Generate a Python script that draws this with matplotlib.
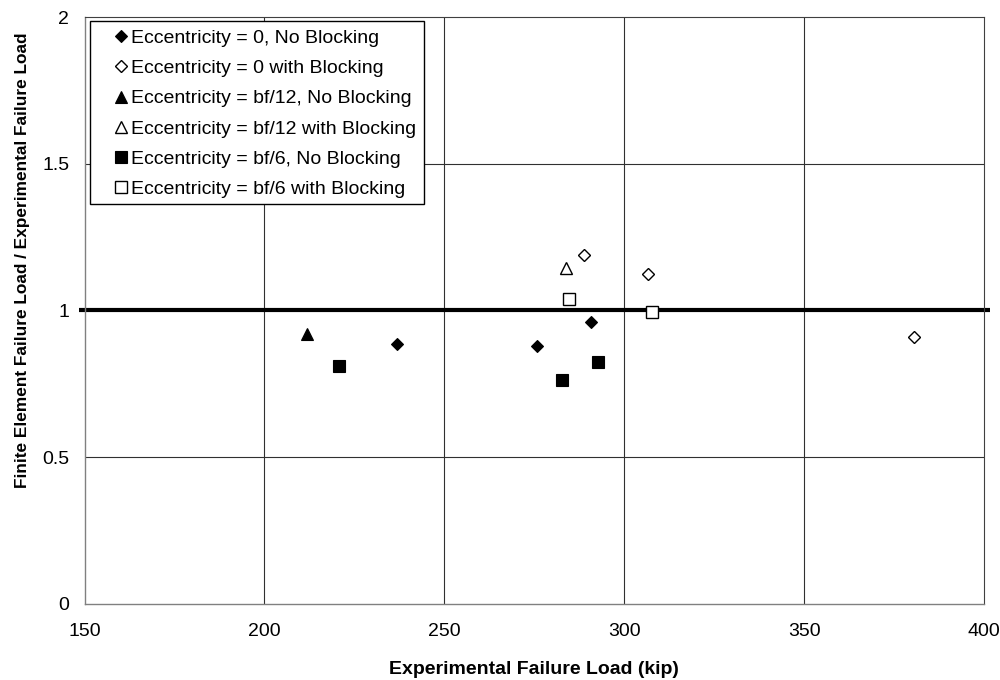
import matplotlib
matplotlib.use("Agg")
import matplotlib.pyplot as plt
from matplotlib.patches import Rectangle

plt.rcParams['font.family'] = ['Liberation Sans', 'DejaVu Sans']

# Experimental failure load (kip) and FE / experimental load ratio per group
e0_nb_x = [236.9, 275.8, 290.8]
e0_nb_y = [0.886, 0.880, 0.962]
e0_b_x = [288.8, 306.7, 380.6]
e0_b_y = [1.189, 1.124, 0.911]
e12_nb_x = [211.9]
e12_nb_y = [0.919]
e12_b_x = [283.8]
e12_b_y = [1.144]
e6_nb_x = [220.8, 282.8, 292.8]
e6_nb_y = [0.811, 0.764, 0.826]
e6_b_x = [284.7, 307.8]
e6_b_y = [1.039, 0.995]

labels = [
    "Eccentricity = 0, No Blocking",
    "Eccentricity = 0 with Blocking",
    "Eccentricity = bf/12, No Blocking",
    "Eccentricity = bf/12 with Blocking",
    "Eccentricity = bf/6, No Blocking",
    "Eccentricity = bf/6 with Blocking",
]

x_ticks = [150, 200, 250, 300, 350, 400]
y_ticks = [0, 0.5, 1, 1.5, 2]
y_tick_labels = ["0", "0.5", "1", "1.5", "2"]

# reference line at ratio = 1
ref_x = [148.5, 401.8]
ref_y = [1.0, 1.0]

fig = plt.figure(figsize=(10, 6.8), dpi=100)
ax = fig.add_axes([0.0845, 0.1118, 0.8995, 0.8632])
ax.set_xlim(150, 400)
ax.set_ylim(0, 2)

grid_c = "#303030"
for xv in x_ticks[1:-1]:
    ax.axvline(xv, color=grid_c, lw=0.8, zorder=1)
for yv in [0.5, 1.5]:
    ax.axhline(yv, color=grid_c, lw=0.8, zorder=1)

ax.plot(ref_x, ref_y, color="black", lw=3.0, zorder=2, clip_on=False,
        solid_capstyle="butt")

common = dict(linestyle="none", color="black", zorder=3)
ax.plot(e0_nb_x, e0_nb_y, marker="D", ms=6.3, mfc="black", mew=0.8,
        label=labels[0], **common)
ax.plot(e0_b_x, e0_b_y, marker="D", ms=6.3, mfc="white", mew=1.0,
        label=labels[1], **common)
ax.plot(e12_nb_x, e12_nb_y, marker="^", ms=9.0, mfc="black", mew=0.8,
        label=labels[2], **common)
ax.plot(e12_b_x, e12_b_y, marker="^", ms=9.0, mfc="white", mew=1.0,
        label=labels[3], **common)
ax.plot(e6_nb_x, e6_nb_y, marker="s", ms=8.8, mfc="black", mew=0.8,
        label=labels[4], **common)
ax.plot(e6_b_x, e6_b_y, marker="s", ms=8.8, mfc="white", mew=1.0,
        label=labels[5], **common)

for side in ["left", "bottom"]:
    ax.spines[side].set_color("#808080")
    ax.spines[side].set_linewidth(1.0)
for side in ["top", "right"]:
    ax.spines[side].set_color("#404040")
    ax.spines[side].set_linewidth(0.8)

ax.set_xticks(x_ticks)
ax.set_xticklabels([str(v) for v in x_ticks])
ax.set_yticks(y_ticks)
ax.set_yticklabels(y_tick_labels)
ax.tick_params(axis="both", length=0, labelsize=14)
ax.tick_params(axis="x", pad=14)
ax.tick_params(axis="y", pad=11)

ax.set_xlabel("Experimental Failure Load (kip)", fontsize=14, fontweight="bold")
ax.set_ylabel("Finite Element Failure Load / Experimental Failure Load",
              fontsize=12.4, fontweight="bold")
ax.xaxis.set_label_coords(0.5, -0.097)
ax.yaxis.set_label_coords(-0.0606, 0.586)

# legend box drawn separately so the markers sit close to the text
ax.add_patch(Rectangle((0.006, 0.681), 0.371, 0.312, transform=ax.transAxes,
                       facecolor="white", edgecolor="black", lw=1.0, zorder=4))
leg = ax.legend(loc="upper left", bbox_to_anchor=(0.025, 0.993),
                borderaxespad=0, borderpad=0.42, frameon=False, fontsize=14,
                handlelength=0.6, handletextpad=0.22, labelspacing=0.65,
                numpoints=1)
leg.set_zorder(5)

fig.savefig("out.png", dpi=100)
